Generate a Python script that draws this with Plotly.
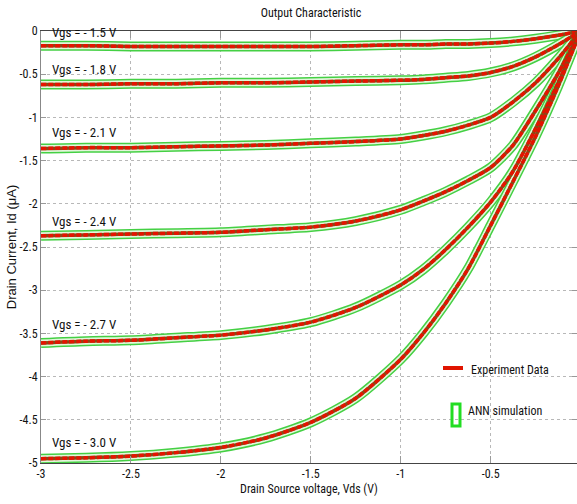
import plotly.graph_objects as go

# Drain-source voltage samples (V)
vds = [-3, -2.75, -2.5, -2.25, -2, -1.75, -1.5, -1.25, -1, -0.875, -0.75, -0.625,
       -0.5, -0.375, -0.25, -0.125, 0]

# Drain current (uA), one list per gate voltage
id_vgs_15 = [-0.17, -0.17, -0.18, -0.18, -0.18, -0.18, -0.18, -0.17, -0.16, -0.16,
             -0.15, -0.15, -0.14, -0.12, -0.09, -0.05, 0]
id_vgs_18 = [-0.62, -0.62, -0.61, -0.61, -0.60, -0.60, -0.59, -0.58, -0.57, -0.56,
             -0.54, -0.52, -0.48, -0.41, -0.30, -0.16, 0]
id_vgs_21 = [-1.36, -1.35, -1.35, -1.34, -1.33, -1.32, -1.30, -1.28, -1.25, -1.21,
             -1.16, -1.09, -1.00, -0.82, -0.60, -0.32, 0]
id_vgs_24 = [-2.37, -2.36, -2.35, -2.34, -2.33, -2.30, -2.27, -2.20, -2.07, -1.97,
             -1.86, -1.73, -1.58, -1.32, -0.92, -0.49, 0]
id_vgs_27 = [-3.61, -3.59, -3.58, -3.55, -3.52, -3.46, -3.37, -3.20, -2.94, -2.76,
             -2.53, -2.27, -1.98, -1.62, -1.13, -0.60, 0]
id_vgs_30 = [-4.95, -4.94, -4.92, -4.88, -4.82, -4.71, -4.53, -4.25, -3.80, -3.50,
             -3.15, -2.75, -2.25, -1.74, -1.22, -0.64, 0]

series = [id_vgs_15, id_vgs_18, id_vgs_21, id_vgs_24, id_vgs_27, id_vgs_30]
curve_labels = ["Vgs = - 1.5 V", "Vgs = - 1.8 V", "Vgs = - 2.1 V",
                "Vgs = - 2.4 V", "Vgs = - 2.7 V", "Vgs = - 3.0 V"]
label_y = [-0.02, -0.45, -1.17, -2.21, -3.40, -4.76]

x_tickvals = [-3, -2.5, -2, -1.5, -1, -0.5]
x_ticktext = ["-3", "-2.5", "-2", "-1.5", "-1", "-0.5"]
y_tickvals = [0, -0.5, -1, -1.5, -2, -2.5, -3, -3.5, -4, -4.5, -5]
y_ticktext = ["0", "-0.5", "-1", "-1.5", "-2", "-2.5", "-3", "-3.5", "-4", "-4.5", "-5"]

NARROW = ("Liberation Sans Narrow, Arial Narrow, Roboto Condensed, Archivo Narrow, "
          "PT Sans Narrow, Liberation Sans, sans-serif")

fig = go.Figure()
for ys in series:
    # ANN simulation band (hollow squares look)
    fig.add_trace(go.Scatter(x=vds, y=ys, mode="lines", showlegend=False,
                             line=dict(color="#44d044", width=10, shape="spline", smoothing=0.7),
                             hoverinfo="skip"))
    fig.add_trace(go.Scatter(x=vds, y=ys, mode="lines", showlegend=False,
                             line=dict(color="#e2f6da", width=7, shape="spline", smoothing=0.7),
                             hoverinfo="skip"))
for ys in series:
    # Experiment data
    fig.add_trace(go.Scatter(x=vds, y=ys, mode="lines", showlegend=False,
                             line=dict(color="#8a4a14", width=3.5, shape="spline", smoothing=0.7)))
    fig.add_trace(go.Scatter(x=vds, y=ys, mode="lines", showlegend=False,
                             line=dict(color="#e41400", width=3.5, dash="5px,2px",
                                       shape="spline", smoothing=0.7)))

for txt, yv in zip(curve_labels, label_y):
    fig.add_annotation(x=-2.95, y=yv, xref="x", yref="y", text=txt, showarrow=False,
                       xanchor="left", yanchor="middle",
                       font=dict(family=NARROW, size=13, color="#111"))

# Manual legend glyphs and labels
fig.add_shape(type="line", xref="paper", yref="paper", x0=(443 - 41) / 536, x1=(463 - 41) / 536,
              y0=(463 - 368) / 432, y1=(463 - 368) / 432, line=dict(color="#e01400", width=4))
fig.add_shape(type="rect", xref="paper", yref="paper", x0=(452 - 41) / 536, x1=(460 - 41) / 536,
              y0=(463 - 426) / 432, y1=(463 - 404) / 432, line=dict(color="#22dd22", width=3))
fig.add_annotation(xref="paper", yref="paper", x=(469 - 41) / 536, y=(463 - 370) / 432,
                   text="Experiment Data", showarrow=False, xanchor="left", yanchor="middle",
                   font=dict(family=NARROW, size=12, color="#111"))
fig.add_annotation(xref="paper", yref="paper", x=(466 - 41) / 536, y=(463 - 411) / 432,
                   text="ANN simulation", showarrow=False, xanchor="left", yanchor="middle",
                   font=dict(family=NARROW, size=12, color="#111"))

fig.update_layout(
    width=577, height=504,
    margin=dict(l=41, r=0, t=31, b=41, pad=0),
    paper_bgcolor="white", plot_bgcolor="white",
    title=dict(text="Output Characteristic", x=(311) / 577, xanchor="center",
               y=1 - 13 / 504, yanchor="middle", yref="container",
               font=dict(family=NARROW, size=12, color="#111")),
    showlegend=False,
)
fig.update_xaxes(range=[-3, -0.02], tickvals=x_tickvals, ticktext=x_ticktext,
                 showgrid=True, gridcolor="#b8b8b8", griddash="dot", gridwidth=1,
                 showline=True, linecolor="#444", linewidth=1, mirror="ticks",
                 ticks="inside", ticklen=7, tickcolor="#999",
                 tickfont=dict(family=NARROW, size=12, color="#111"),
                 zeroline=False, automargin=False,
                 title=dict(text="Drain Source voltage, Vds (V)", standoff=4,
                            font=dict(family=NARROW, size=12, color="#111")))
fig.update_yaxes(range=[-5, 0], tickvals=y_tickvals, ticktext=y_ticktext,
                 showgrid=True, gridcolor="#b8b8b8", griddash="dot", gridwidth=1,
                 showline=True, linecolor="#888", linewidth=1, mirror="ticks",
                 ticks="inside", ticklen=5, tickcolor="#999",
                 tickfont=dict(family=NARROW, size=12, color="#111"),
                 zeroline=False, automargin=False,
                 title=dict(text="Drain Current, Id (μA)", standoff=0,
                            font=dict(family="Liberation Sans, Arial, sans-serif", size=13, color="#111")))

fig.write_html("out.html")
